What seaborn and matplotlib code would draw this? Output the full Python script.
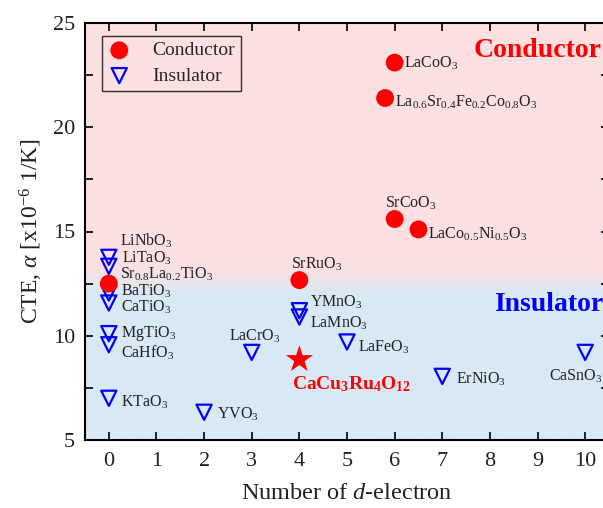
import matplotlib
matplotlib.use('Agg')
import matplotlib.pyplot as plt
import seaborn as sns
import numpy as np
import pandas as pd
from matplotlib.colors import to_rgb
from matplotlib.ticker import MultipleLocator

# --- data -------------------------------------------------------------
cond_names = ['LaCoO3', 'LSFC', 'SrCoO3', 'LaCoNiO3', 'SrRuO3', 'SrLaTiO3']
cond_x = [6, 5.8, 6, 6.5, 4, 0]
cond_y = [23.1, 21.4, 15.6, 15.1, 12.67, 12.5]
cond_labels = [r'$\mathrm{LaCoO_3}$',
               r'$\mathrm{La_{0.6}Sr_{0.4}Fe_{0.2}Co_{0.8}O_3}$',
               r'$\mathrm{SrCoO_3}$',
               r'$\mathrm{LaCo_{0.5}Ni_{0.5}O_3}$',
               r'$\mathrm{SrRuO_3}$',
               r'$\mathrm{Sr_{0.8}La_{0.2}TiO_3}$']

ins_names = ['LiNbO3', 'LiTaO3', 'BaTiO3', 'CaTiO3', 'MgTiO3', 'CaHfO3', 'KTaO3',
             'YVO3', 'LaCrO3', 'YMnO3', 'LaMnO3', 'LaFeO3', 'ErNiO3', 'CaSnO3']
ins_x = [0, 0, 0, 0, 0, 0, 0, 2, 3, 4, 4, 5, 7, 10]
ins_y = [13.76, 13.33, 12.05, 11.57, 10.1, 9.57, 7.0, 6.33, 9.2, 11.2, 10.9, 9.7, 8.05, 9.2]
ins_labels = [r'$\mathrm{LiNbO_3}$', r'$\mathrm{LiTaO_3}$', r'$\mathrm{BaTiO_3}$',
              r'$\mathrm{CaTiO_3}$', r'$\mathrm{MgTiO_3}$', r'$\mathrm{CaHfO_3}$',
              r'$\mathrm{KTaO_3}$', r'$\mathrm{YVO_3}$', r'$\mathrm{LaCrO_3}$',
              r'$\mathrm{YMnO_3}$', r'$\mathrm{LaMnO_3}$', r'$\mathrm{LaFeO_3}$',
              r'$\mathrm{ErNiO_3}$', r'$\mathrm{CaSnO_3}$']

star_x = [4]
star_y = [8.86]
star_label = r'$\mathbf{CaCu_3Ru_4O_{12}}$'

# label offsets in pixels (dx, dy, ha)
cond_off = [(9, -1, 'left'), (10, -4, 'left'), (-10, 16, 'left'), (10, -5, 'left'),
            (17, 16, 'center'), (11, 9, 'left')]
ins_off = [(11, 17, 'left'), (13, 8, 'left'), (12, 2, 'left'), (12, -4, 'left'),
           (12, 0, 'left'), (12, -8, 'left'), (12, -4, 'left'), (13, -2, 'left'),
           (3, 16, 'center'), (11, 8, 'left'), (11, -6, 'left'), (11, -5, 'left'),
           (14, -3, 'left'), (-9, -24, 'center')]

# --- style ------------------------------------------------------------
sns.set_theme(style='ticks')
plt.rcParams['font.family'] = ['Liberation Serif', 'DejaVu Serif']
plt.rcParams['mathtext.fontset'] = 'custom'
plt.rcParams['mathtext.rm'] = 'Liberation Serif'
plt.rcParams['mathtext.it'] = 'Liberation Serif:italic'
plt.rcParams['mathtext.bf'] = 'Liberation Serif:bold'

fig = plt.figure(figsize=(6.03, 5.08), dpi=100)
ax = fig.add_axes([85 / 603, 68 / 508, 524 / 603, 417 / 508])

xmin, xmax, ymin, ymax = -0.5, 10.5, 5, 25

# background: pink above, light blue below, soft blend around 12.5
pink = np.array(to_rgb('#fde0e1'))
blue = np.array(to_rgb('#d9e9f5'))
yy = np.linspace(ymin, ymax, 400)
w = np.clip((yy - 12.0) / 1.3, 0, 1)[:, None]
grad = (blue * (1 - w) + pink * w)[:, None, :]
ax.imshow(grad, extent=[xmin, xmax, ymin, ymax], origin='lower', aspect='auto', zorder=0)

df_c = pd.DataFrame({'x': cond_x, 'y': cond_y})
df_i = pd.DataFrame({'x': ins_x, 'y': ins_y})
df_s = pd.DataFrame({'x': star_x, 'y': star_y})

sns.scatterplot(data=df_i, x='x', y='y', ax=ax, marker='v', s=120, facecolor='none',
                edgecolor='#0000ff', linewidth=1.6, label='Insulator', zorder=3)
sns.scatterplot(data=df_c, x='x', y='y', ax=ax, marker='o', s=165, color='#ff0000',
                edgecolor='none', label='Conductor', zorder=4)
sns.scatterplot(data=df_s, x='x', y='y', ax=ax, marker='*', s=420, color='#ff0000',
                edgecolor='none', legend=False, zorder=4)

for x, y, lab, (dx, dy, ha) in zip(cond_x, cond_y, cond_labels, cond_off):
    ax.annotate(lab, (x, y), xytext=(dx, dy), textcoords='offset pixels',
                ha=ha, va='center', fontsize=11.5, color='#222222', zorder=5)
for x, y, lab, (dx, dy, ha) in zip(ins_x, ins_y, ins_labels, ins_off):
    ax.annotate(lab, (x, y), xytext=(dx, dy), textcoords='offset pixels',
                ha=ha, va='center', fontsize=11.5, color='#222222', zorder=5)
ax.annotate(star_label, (star_x[0], star_y[0]), xytext=(-7, -25), textcoords='offset pixels',
            ha='left', va='center', fontsize=14, color='#ff0000', zorder=5)

ax.text(7.65, 23.7, 'Conductor', color='#ff0000', fontsize=20, fontweight='bold',
        ha='left', va='center', zorder=5)
ax.text(8.09, 11.5, 'Insulator', color='#0000ff', fontsize=20, fontweight='bold',
        ha='left', va='center', zorder=5)

ax.set_xlim(xmin, xmax)
ax.set_ylim(ymin, ymax)
ax.xaxis.set_major_locator(MultipleLocator(1))
ax.yaxis.set_major_locator(MultipleLocator(5))
ax.yaxis.set_minor_locator(MultipleLocator(2.5))
ax.tick_params(which='both', direction='in', top=True, right=True, width=1.2,
               labelsize=16, color='black', labelcolor='#222222')
ax.tick_params(which='major', length=6)
ax.tick_params(which='minor', length=6)
ax.tick_params(axis='x', pad=9)
ax.tick_params(axis='y', pad=7)
for sp in ax.spines.values():
    sp.set_linewidth(1.5)
    sp.set_color('black')
    sp.set_visible(True)

ax.set_xlabel(r'Number of $\it{d}$-electron', fontsize=17.5, color='#222222', labelpad=8)
ax.set_ylabel(r'CTE, $\alpha$ [x10$^{-6}$ 1/K]', fontsize=17, color='#222222', labelpad=6)

handles, labels = ax.get_legend_handles_labels()
order = [labels.index('Conductor'), labels.index('Insulator')]
leg = ax.legend([handles[i] for i in order], [labels[i] for i in order],
                loc='upper left', bbox_to_anchor=(0.032, 0.969), borderaxespad=0,
                fontsize=14, frameon=True, fancybox=False, edgecolor='black',
                facecolor='none', handlelength=1.2, handletextpad=1.1,
                borderpad=0.3, labelspacing=0.4)
leg.get_frame().set_linewidth(1.0)

fig.savefig('out.png', dpi=100)
